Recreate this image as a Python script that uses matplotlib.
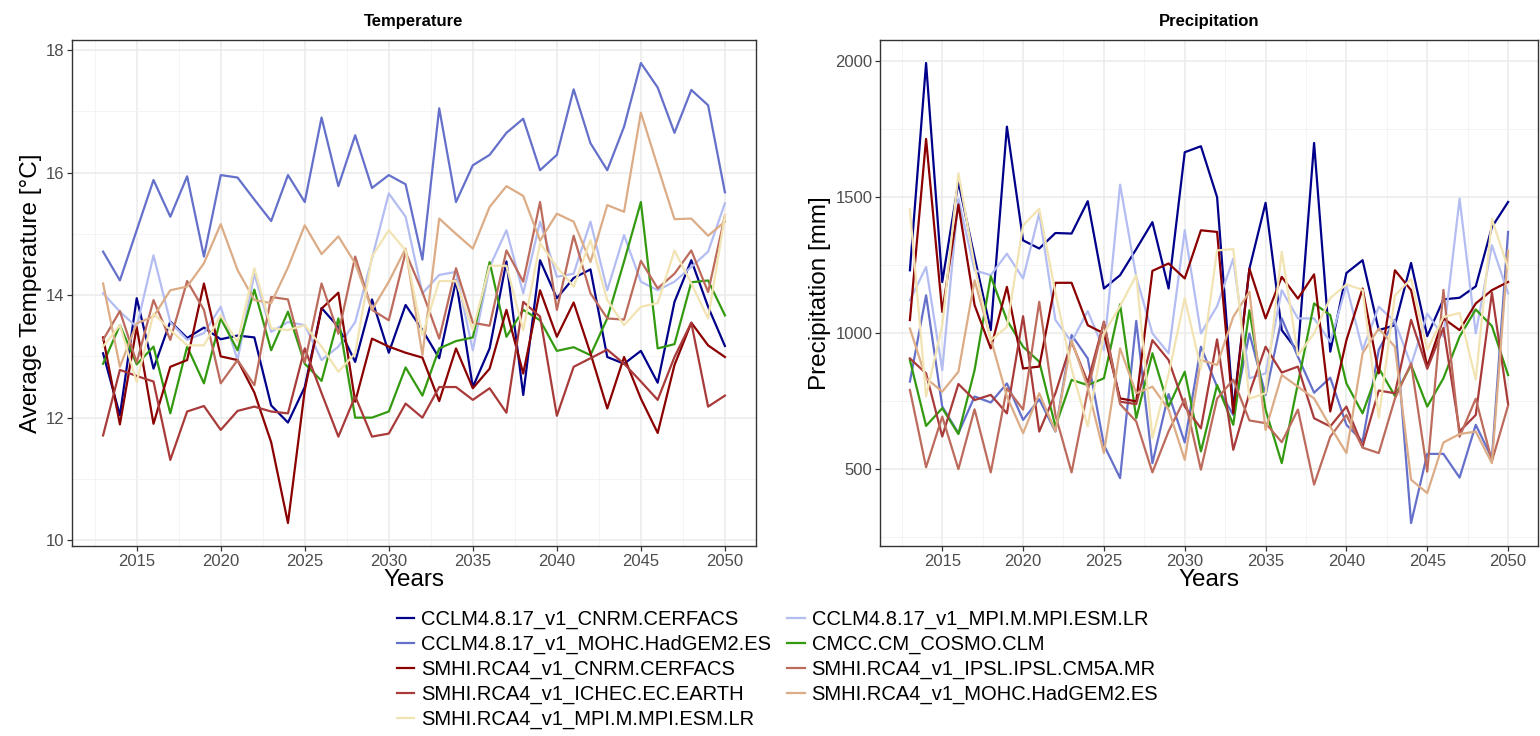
import matplotlib
matplotlib.use("Agg")
import matplotlib.pyplot as plt
import numpy as np
from matplotlib.ticker import MultipleLocator

plt.rcParams["font.family"] = ["Liberation Sans", "DejaVu Sans"]

years = list(range(2013, 2051))

models = [
    "CCLM4.8.17_v1_CNRM.CERFACS",
    "CCLM4.8.17_v1_MOHC.HadGEM2.ES",
    "CCLM4.8.17_v1_MPI.M.MPI.ESM.LR",
    "CMCC.CM_COSMO.CLM",
    "SMHI.RCA4_v1_CNRM.CERFACS",
    "SMHI.RCA4_v1_ICHEC.EC.EARTH",
    "SMHI.RCA4_v1_IPSL.IPSL.CM5A.MR",
    "SMHI.RCA4_v1_MOHC.HadGEM2.ES",
    "SMHI.RCA4_v1_MPI.M.MPI.ESM.LR",
]
colors = ["#00008B", "#6470CA", "#B3BDF2", "#339A10", "#8B0000",
          "#A83A3A", "#BC6B5C", "#DCAC86", "#F2E3B3"]

# average temperature [°C]
cclm_cnrm_t = [13.05, 12.04, 13.95, 12.8, 13.57, 13.3, 13.47, 13.28, 13.34, 13.31,
               12.2, 11.92, 12.5, 13.79, 13.48, 12.91, 13.93, 13.06, 13.84, 13.43,
               12.97, 14.24, 12.5, 13.13, 14.55, 12.37, 14.57, 13.95, 14.28, 14.42,
               12.99, 12.88, 13.09, 12.57, 13.89, 14.57, 13.81, 13.17]
cclm_mohc_t = [14.71, 14.24, 15.06, 15.88, 15.28, 15.94, 14.63, 15.96, 15.92, 15.56,
               15.21, 15.96, 15.52, 16.9, 15.78, 16.61, 15.75, 15.96, 15.81, 14.58,
               17.05, 15.52, 16.12, 16.29, 16.65, 16.88, 16.04, 16.29, 17.36, 16.48,
               16.04, 16.75, 17.79, 17.39, 16.65, 17.35, 17.1, 15.68]
cclm_mpi_t = [14.03, 13.73, 13.48, 14.65, 13.56, 13.27, 13.38, 13.81, 12.94, 14.35,
              13.4, 13.56, 13.51, 12.94, 13.16, 13.56, 14.6, 15.66, 15.28, 14.03,
              14.33, 14.38, 13.1, 14.46, 15.06, 14.03, 15.2, 14.3, 14.35, 15.2,
              14.08, 14.98, 14.22, 14.08, 14.22, 14.46, 14.71, 15.5]
cmcc_t = [12.88, 13.51, 12.87, 13.16, 12.07, 13.16, 12.56, 13.62, 13.1, 14.09,
          13.1, 13.73, 12.88, 12.6, 13.62, 12.0, 12.0, 12.1, 12.82, 12.36,
          13.13, 13.25, 13.31, 14.54, 13.32, 13.76, 13.59, 13.09, 13.15, 13.02,
          13.62, 14.55, 15.52, 13.13, 13.2, 14.21, 14.24, 13.67]
smhi_cnrm_t = [13.31, 11.89, 13.48, 11.9, 12.83, 12.94, 14.19, 13.0, 12.94, 12.41,
               11.6, 10.28, 12.45, 13.78, 14.04, 12.26, 13.29, 13.16, 13.06, 12.98,
               12.27, 13.13, 12.48, 12.8, 13.76, 12.72, 14.08, 13.32, 13.88, 13.05,
               12.15, 12.99, 12.31, 11.75, 12.86, 13.55, 13.18, 12.99]
smhi_ichec_t = [11.71, 12.78, 12.68, 12.59, 11.31, 12.1, 12.19, 11.8, 12.11, 12.18,
                12.1, 12.07, 13.13, 12.4, 11.69, 12.35, 11.69, 11.74, 12.23, 12.0,
                12.5, 12.5, 12.29, 12.48, 12.08, 13.89, 13.65, 12.03, 12.83, 12.97,
                13.11, 12.88, 12.59, 12.29, 12.99, 13.55, 12.18, 12.36]
smhi_ipsl_t = [13.27, 13.74, 12.9, 13.92, 13.27, 14.23, 13.76, 12.56, 12.94, 12.53,
               13.97, 13.93, 12.9, 14.19, 13.37, 14.63, 13.76, 13.59, 14.7, 14.05,
               13.29, 14.44, 13.55, 13.5, 14.73, 14.22, 15.52, 13.76, 14.97, 14.03,
               13.62, 13.6, 14.56, 14.11, 14.35, 14.73, 14.05, 15.3]
smhi_mohc_t = [14.19, 12.83, 13.54, 13.65, 14.08, 14.14, 14.52, 15.16, 14.41, 13.92,
               13.87, 14.45, 15.14, 14.67, 14.96, 14.52, 13.76, 14.22, 14.76, 13.02,
               15.25, 15.0, 14.76, 15.44, 15.78, 15.62, 14.89, 15.33, 15.2, 14.54,
               15.47, 15.36, 16.98, 16.1, 15.24, 15.25, 14.97, 15.2]
smhi_mpi_t = [13.16, 13.51, 12.58, 13.7, 13.43, 13.18, 13.18, 13.67, 13.24, 14.44,
              13.46, 13.43, 13.51, 13.16, 12.75, 13.05, 14.63, 15.06, 14.73, 13.35,
              14.23, 14.23, 13.43, 14.48, 14.48, 13.43, 14.85, 14.46, 14.14, 14.9,
              13.92, 13.51, 13.81, 13.87, 14.73, 14.19, 13.62, 15.3]

# precipitation [mm]
cclm_cnrm_p = [1232, 1994, 1189, 1556, 1280, 1012, 1760, 1342, 1312, 1369,
               1367, 1486, 1165, 1214, 1310, 1409, 1165, 1666, 1688, 1501,
               720, 1238, 1480, 1012, 933, 1700, 933, 1222, 1269, 1012,
               1030, 1259, 990, 1125, 1131, 1173, 1391, 1483]
cclm_mohc_p = [823, 1140, 731, 633, 768, 746, 816, 682, 758, 639,
               994, 908, 590, 468, 1046, 523, 777, 599, 951, 804,
               700, 1000, 774, 1055, 914, 782, 837, 664, 603, 940,
               1050, 303, 557, 557, 470, 664, 541, 1373]
cclm_mpi_p = [1122, 1244, 865, 1495, 1232, 1214, 1293, 1202, 1442, 1049,
              969, 1082, 939, 1547, 1208, 1000, 927, 1379, 1000, 1100,
              1275, 835, 853, 1159, 1055, 1055, 969, 1177, 939, 1098,
              1043, 884, 1073, 988, 1495, 1000, 1324, 1147]
cmcc_p = [902, 660, 725, 630, 865, 1210, 1049, 951, 896, 658,
          829, 810, 835, 1107, 688, 927, 731, 859, 566, 810,
          664, 1085, 719, 523, 816, 1110, 1067, 816, 706, 872,
          770, 884, 731, 835, 988, 1088, 1027, 847]
smhi_cnrm_p = [1049, 1715, 1079, 1474, 1104, 945, 1171, 871, 878, 1186,
               1186, 1030, 1000, 761, 750, 1230, 1257, 1202, 1379, 1373,
               707, 1238, 1055, 1208, 1128, 1217, 713, 975, 1165, 853,
               1232, 1159, 878, 1055, 1012, 1110, 1159, 1189]
smhi_ichec_p = [908, 853, 621, 814, 755, 774, 706, 1063, 639, 780,
                969, 820, 1043, 749, 740, 975, 902, 731, 651, 978,
                572, 780, 951, 856, 878, 688, 658, 731, 584, 790,
                780, 1050, 870, 1020, 640, 700, 1150, 740]
smhi_ipsl_p = [792, 508, 694, 501, 721, 489, 798, 720, 1116, 700,
               489, 790, 1040, 740, 676, 489, 640, 760, 499, 760,
               830, 680, 670, 600, 720, 444, 620, 700, 580, 560,
               760, 890, 492, 1160, 620, 760, 530, 735]
smhi_mohc_p = [1018, 835, 786, 859, 1195, 980, 768, 633, 780, 640,
               975, 800, 560, 945, 780, 804, 720, 535, 902, 884,
               1061, 1153, 645, 847, 804, 761, 658, 560, 927, 1018,
               951, 462, 413, 599, 630, 639, 523, 1305]
smhi_mpi_p = [1456, 768, 1030, 1589, 1250, 975, 1024, 1397, 1458, 1150,
              870, 658, 1000, 1100, 1214, 615, 850, 1130, 870, 1305,
              1310, 760, 780, 1300, 920, 1000, 1130, 1180, 1160, 690,
              1140, 1200, 940, 1060, 1075, 830, 1420, 1240]

temperature = [cclm_cnrm_t, cclm_mohc_t, cclm_mpi_t, cmcc_t, smhi_cnrm_t,
               smhi_ichec_t, smhi_ipsl_t, smhi_mohc_t, smhi_mpi_t]
precipitation = [cclm_cnrm_p, cclm_mohc_p, cclm_mpi_p, cmcc_p, smhi_cnrm_p,
                 smhi_ichec_p, smhi_ipsl_p, smhi_mohc_p, smhi_mpi_p]


def expand(values, frac=0.05):
    lo, hi = min(values), max(values)
    pad = (hi - lo) * frac
    return lo - pad, hi + pad


def style_axis(ax, ymajor, title, ylabel):
    ax.set_xlim(*expand(years))
    ax.xaxis.set_major_locator(MultipleLocator(5))
    ax.xaxis.set_minor_locator(MultipleLocator(2.5))
    ax.yaxis.set_major_locator(MultipleLocator(ymajor))
    ax.yaxis.set_minor_locator(MultipleLocator(ymajor / 2))
    ax.grid(which="major", color="#EBEBEB", lw=1.1)
    ax.grid(which="minor", color="#F2F2F2", lw=0.6)
    ax.set_axisbelow(True)
    for s in ax.spines.values():
        s.set_color("#333333")
        s.set_linewidth(1.0)
    ax.tick_params(which="major", length=3.5, width=0.9, color="#333333",
                   labelsize=12, labelcolor="#4D4D4D", pad=2)
    ax.tick_params(which="minor", length=0)
    ax.set_title(title, fontsize=12, fontweight="bold", pad=10)
    ax.set_xlabel("Years", fontsize=17.5, labelpad=0)
    ax.set_ylabel(ylabel, fontsize=17.5, labelpad=3)


fig = plt.figure(figsize=(15.4, 7.36), dpi=100)
ax1 = fig.add_axes([72 / 1540, 1 - 546 / 736, 684 / 1540, 506 / 736])
ax2 = fig.add_axes([880 / 1540, 1 - 546 / 736, 658 / 1540, 506 / 736])

lines = []
for name, col, t, p in zip(models, colors, temperature, precipitation):
    ln, = ax1.plot(years, t, color=col, lw=1.6, label=name)
    ax2.plot(years, p, color=col, lw=1.6)
    lines.append(ln)

ax1.set_ylim(*expand(sum(temperature, [])))
ax2.set_ylim(*expand(sum(precipitation, [])))

style_axis(ax1, 2, "Temperature", "Average Temperature [°C]")
style_axis(ax2, 500, "Precipitation", "Precipitation [mm]")

order = [0, 1, 4, 5, 8, 2, 3, 6, 7]
fig.legend([lines[i] for i in order], [models[i] for i in order],
           loc="upper center", bbox_to_anchor=(0.505, 1 - 610 / 736),
           ncol=2, frameon=False, fontsize=14.5, handlelength=0.85,
           handletextpad=0.35, columnspacing=0.8, labelspacing=0.28,
           borderpad=0, borderaxespad=0)

fig.savefig("out.png", dpi=100)
